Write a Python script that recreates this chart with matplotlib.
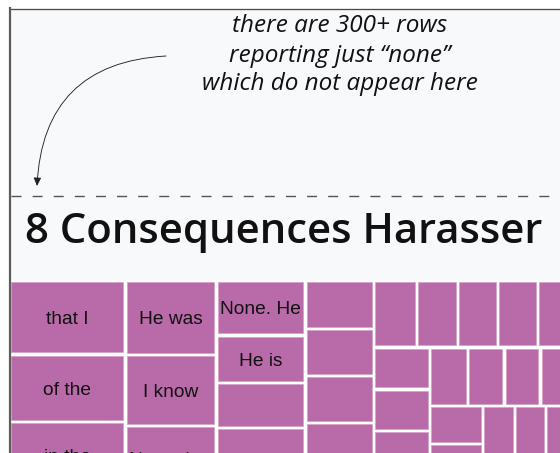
import matplotlib
matplotlib.use("Agg")
import matplotlib.pyplot as plt
from matplotlib.patches import Rectangle, FancyArrowPatch
from matplotlib.lines import Line2D

# ---------------- data (response counts per phrase tile, in layout strips) ----------------
title_text = "8 Consequences Harasser"
note_lines = ["there are 300+ rows", "reporting just \u201cnone\u201d", "which do not appear here"]

strip1_counts = [855, 777, 775, 765, 755, 751]
strip1_labels = ["that I", "of the", "in the", "", "", ""]
strip2_counts = [680, 647, 585, 593, 591, 590]
strip2_labels = ["He was", "I know", "None that", "", "", ""]
strip3_counts = [490, 423, 402, 395, 390, 385, 380, 372, 367]
strip3_labels = ["None. He", "He is"]
strip4_counts = [330, 324, 318, 310, 305, 300, 296, 292, 291]
strip5_counts = [291, 275, 268, 265, 256, 252, 250, 248, 245]
strip6_counts = [236, 236, 239, 239, 239, 239, 239, 239]
strip7_counts = [223, 213, 211, 217, 216, 216, 216, 216]
strip8_counts = [199, 190, 187, 185, 182, 181, 179, 177]
strip9_counts = [174, 173, 170, 167, 164, 162, 160, 157]

strips = [
    (strip1_counts, strip1_labels),
    (strip2_counts, strip2_labels),
    (strip3_counts, strip3_labels),
    (strip4_counts, []),
    (strip5_counts, []),
    (strip6_counts, []),
    (strip7_counts, []),
    (strip8_counts, []),
    (strip9_counts, []),
]

# ---------------- styling / layout constants ----------------
W_PX, H_PX = 560, 453
DPI = 100
BG = "#f8f9fb"
TILE = "#b96aa8"
TILE_EDGE = "#d6a2ca"
PT = 72.0 / DPI  # points per pixel

X0, Y0, X1, Y1 = 9.5, 280.0, 724.0, 685.0  # treemap container (px)
UNIT = 10.0  # px^2 per response
GAP = 1.65
LABEL_SIZE = 13.8

fig = plt.figure(figsize=(W_PX / DPI, H_PX / DPI), dpi=DPI)
fig.patch.set_facecolor("white")
ax = fig.add_axes([0, 0, 1, 1])
ax.set_xlim(0, W_PX)
ax.set_ylim(H_PX, 0)
ax.axis("off")

# panel background and frame
ax.add_patch(Rectangle((10, 9), 600, 500, facecolor=BG, edgecolor="none", zorder=0))
ax.add_line(Line2D([10, 600], [8.8, 8.8], color="#4a4a4a", lw=1.3 * PT, zorder=5))
ax.add_line(Line2D([10, 10], [8, 600], color="#5c5c5c", lw=2.2 * PT, zorder=5))

# annotation
for i, line in enumerate(note_lines):
    ax.text(340, 26.5 + 29 * i, line, ha="center", va="center", fontsize=17.5,
            family="Open Sans", style="italic", color="#111111")

arrow = FancyArrowPatch((166, 56), (37, 186), connectionstyle="arc3,rad=0.45",
                        arrowstyle="-|>,head_length=0.55,head_width=0.25",
                        mutation_scale=9, lw=0.9 * PT, color="#222222",
                        shrinkA=0, shrinkB=0, zorder=4)
ax.add_patch(arrow)

# dashed separator
ax.add_line(Line2D([11, 560], [195.5, 195.5], color="#555555", lw=1.0,
                   dashes=(7.2, 8.0), zorder=3))

# title
ax.text(25, 232, title_text, ha="left", va="center", fontsize=30.2,
        family="Open Sans", fontweight="semibold", color="#111111")

# treemap background
ax.add_patch(Rectangle((X0, Y0), X1 - X0, Y1 - Y0, facecolor="white", edgecolor="none", zorder=1))

# squarified strip layout computed from counts
x, y, w, h = X0, Y0, X1 - X0, Y1 - Y0
cap_half = 0.716 * LABEL_SIZE / PT / 2
for counts, labels in strips:
    area = sum(counts) * UNIT
    cells = []
    if w >= h:
        sw = area / h
        cy = y
        for v in counts:
            ch = v * UNIT / sw
            cells.append((x, cy, sw, ch))
            cy += ch
        x += sw
        w -= sw
    else:
        sh = area / w
        cx = x
        for v in counts:
            cw = v * UNIT / sh
            cells.append((cx, y, cw, sh))
            cx += cw
        y += sh
        h -= sh
    for k, (cx, cy, cw, ch) in enumerate(cells):
        rect = Rectangle((cx + GAP, cy + GAP), cw - 2 * GAP, ch - 2 * GAP,
                         facecolor=TILE, edgecolor=TILE_EDGE, lw=0.8 * PT, zorder=2)
        ax.add_patch(rect)
        if k < len(labels) and labels[k]:
            t = ax.text(cx + cw / 2, cy + ch / 2 + cap_half, labels[k], ha="center",
                        va="baseline", fontsize=LABEL_SIZE, family="Liberation Sans",
                        color="#111111", zorder=3)
            t.set_clip_path(rect)

fig.savefig("out.png", dpi=DPI)
